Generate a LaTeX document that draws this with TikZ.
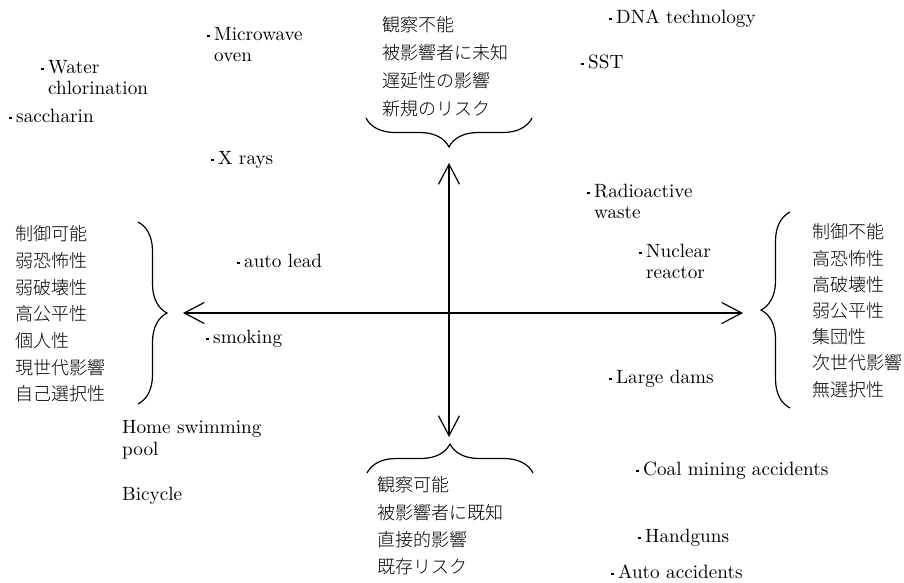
\documentclass[tikz,border=0pt]{standalone}
\usepackage{fontspec}
\setmainfont{lmroman10-regular.otf}
\newfontfamily\jpfont{Noto Sans CJK JP Light}
\usetikzlibrary{arrows.meta,decorations.pathreplacing}
% small square dot that leads each hazard name
\newcommand\hazdot{\makebox[7pt][l]{\kern0.2pt\rule[3pt]{2.4pt}{2.4pt}}}
\begin{document}
\begin{tikzpicture}[x=1pt,y=-1pt,
  item/.style={anchor=mid west, inner sep=0pt, font=\fontsize{19.2}{21}\selectfont},
  jp/.style={anchor=west, inner sep=0pt, text height=15.84pt, text depth=2.16pt,
    font=\jpfont\fontsize{18}{27}\selectfont},
  axis/.style={line width=1.2pt,
    {Straight Barb[length=20pt,width=21pt,line width=1.2pt]}-{Straight Barb[length=20pt,width=21pt,line width=1.2pt]}},
  curly/.style={line width=1.2pt, decorate, decoration={brace, amplitude=29pt, aspect=0.5}}]
\useasboundingbox (0,0) rectangle (904,582);

% axes
\coordinate (up) at (449,163);
\coordinate (down) at (449,437);
\coordinate (lft) at (183,313);
\coordinate (rgt) at (743,313);
\draw[axis] (up) -- (down);
\draw[axis] (lft) -- (rgt);

% braces around the four axis descriptions
\coordinate (tb1) at (532,118); \coordinate (tb2) at (366,118);
\coordinate (bb1) at (367,473); \coordinate (bb2) at (533,473);
\coordinate (lb1) at (138,222); \coordinate (lb2) at (138,404);
\coordinate (rb1) at (790,408); \coordinate (rb2) at (790,212);
\draw[curly] (tb1) -- (tb2);
\draw[curly] (bb1) -- (bb2);
\draw[curly] (lb1) -- (lb2);
\draw[curly] (rb1) -- (rb2);

% axis descriptions
\foreach \t [count=\i from 0] in {観察不能,被影響者に未知,遅延性の影響,新規のリスク}
  \node[jp] (top\i) at (382,{25+27.9*\i}) {\t};
\foreach \t [count=\i from 0] in {制御可能,弱恐怖性,弱破壊性,高公平性,個人性,現世代影響,自己選択性}
  \node[jp] (lt\i) at (15,{234+26.67*\i}) {\t};
\foreach \t [count=\i from 0] in {制御不能,高恐怖性,高破壊性,弱公平性,集団性,次世代影響,無選択性}
  \node[jp] (rt\i) at (812,{232+26.2*\i}) {\t};
\foreach \t [count=\i from 0] in {観察可能,被影響者に既知,直接的影響,既存リスク}
  \node[jp] (bot\i) at (377,{485+27.3*\i}) {\t};

% plotted hazards
\node[item] (mw1) at (207,38) {\hazdot Microwave};
\node[item] (mw2) at (214,59) {oven};
\node[item] (wc1) at (41,71) {\hazdot Water};
\node[item] (wc2) at (48,92) {chlorination};
\node[item] (sac) at (9,120) {\hazdot saccharin};
\node[item] (xr) at (211,162) {\hazdot X rays};
\node[item] (dna) at (609,21) {\hazdot DNA technology};
\node[item] (sst) at (581,66) {\hazdot SST};
\node[item] (rw1) at (587,195) {\hazdot Radioactive};
\node[item] (rw2) at (594,216) {waste};
\node[item] (nr1) at (639,255) {\hazdot Nuclear};
\node[item] (nr2) at (646,276) {reactor};
\node[item] (al) at (237,265) {\hazdot auto lead};
\node[item] (sm) at (206,341) {\hazdot smoking};
\node[item] (ld) at (609,381) {\hazdot Large dams};
\node[item] (hs1) at (122,431) {Home swimming};
\node[item] (hs2) at (122,453) {pool};
\node[item] (bc) at (122,498) {Bicycle};
\node[item] (cm) at (636,473) {\hazdot Coal mining accidents};
\node[item] (hg) at (638,540) {\hazdot Handguns};
\node[item] (aa) at (611,576) {\hazdot Auto accidents};
\end{tikzpicture}
\end{document}
